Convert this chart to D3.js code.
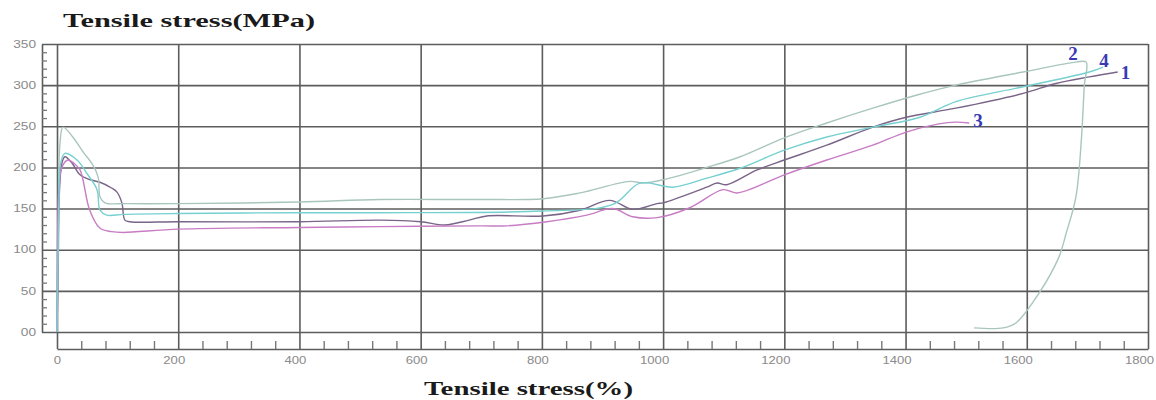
<!DOCTYPE html>
<html>
<head>
<meta charset="utf-8">
<script src="https://cdn.jsdelivr.net/npm/d3@7"></script>
<style>
  body { margin: 0; background: #fff; }
</style>
</head>
<body>
<div id="chart"></div>
<script>
'use strict';

// values: [strain %, stress MPa]
const curve1 = [[0,0],[2,80],[4,170],[8,205],[13,213],[25,205],[38,191],[55,185],[71,182],[90,175],[99,170],[107,157],[112,136],[120,134],[200,134],[400,134],[533,136],[600,134],[640,130],[680,136],[709,141],[802,141],[863,148],[912,160],[950,149],[990,156],[1000,157],[1072,176],[1089,181],[1105,179],[1155,197],[1200,209],[1270,227],[1346,249],[1401,261],[1483,272],[1594,290],[1648,302],[1703,310],[1750,316]];
const curve2 = [[0,0],[2,120],[5,230],[10,249],[26,237],[43,219],[59,203],[68,188],[71,164],[79,157],[115,156],[200,156],[400,158],[533,161],[700,161],[802,162],[863,169],[945,183],[967,181],[1000,185],[1072,200],[1127,213],[1200,236],[1270,254],[1346,272],[1419,288],[1483,300],[1594,316],[1681,328],[1698,328],[1695,300],[1690,233],[1681,164],[1665,120],[1653,91],[1620,47],[1582,11],[1561,5],[1513,5]];
const curve3 = [[0,0],[1,120],[3,170],[8,200],[18,209],[28,205],[38,197],[54,148],[71,126],[90,122],[109,121],[200,125],[400,127],[533,128],[700,129],[742,129],[808,134],[874,142],[917,150],[950,140],[990,139],[1044,151],[1099,173],[1122,169],[1200,191],[1270,209],[1346,227],[1401,243],[1455,253],[1483,255],[1505,254]];
const curve4 = [[0,0],[3,150],[6,205],[13,217],[33,209],[50,192],[66,173],[71,148],[82,142],[110,143],[200,144],[400,145],[533,145],[800,147],[917,155],[962,181],[1016,176],[1072,187],[1127,199],[1200,221],[1270,237],[1346,249],[1424,261],[1483,280],[1594,298],[1703,316],[1726,322]];
const curveNames = ['1', '2', '3', '4'];

const xTicks = [0, 200, 400, 600, 800, 1000, 1200, 1400, 1600, 1800];
const yTicks = [0, 50, 100, 150, 200, 250, 300, 350];
const yTickLabels = ['00', '50', '100', '150', '200', '250', '300', '350'];

const width = 1156;
const height = 400;

const svg = d3.select('#chart')
  .append('svg')
  .attr('width', width)
  .attr('height', height);

const scaleX = d3.scaleLinear().domain([0, 1800]).range([57, 1148]);
const scaleY = d3.scaleLinear().domain([0, 350]).range([332, 44]);
const axisLeftX = 42;
const axisBottomY = 349;
const gridColor = '#5c5c5c';
const tickFont = '"Liberation Sans", Arial, sans-serif';
const serif = '"Liberation Serif", "Times New Roman", serif';

// vertical grid + x labels
const gx = svg.append('g')
  .attr('transform', `translate(0, ${axisBottomY})`)
  .call(d3.axisBottom(scaleX)
    .tickValues(xTicks)
    .tickSize(-(axisBottomY - scaleY(350)))
    .tickSizeOuter(0)
    .tickPadding(8)
    .tickFormat(d => String(d)));
gx.selectAll('line').attr('stroke', gridColor).attr('stroke-width', 1.6);
gx.select('.domain').attr('stroke', gridColor).attr('stroke-width', 1.6);
gx.selectAll('text')
  .attr('fill', '#8a8a8a')
  .attr('dx', d => -Math.max(0, String(d).length - 2) * 4.5)
  .style('font-family', tickFont)
  .style('font-size', '10px')
  .attr('textLength', d => String(d).length * 7.3)
  .attr('lengthAdjust', 'spacingAndGlyphs');

// minor x ticks every 40
const xMinor = d3.range(0, 1801, 40).filter(v => v % 200 !== 0);
const gxm = svg.append('g')
  .attr('transform', `translate(0, ${axisBottomY})`)
  .call(d3.axisBottom(scaleX).tickValues(xMinor).tickSize(-8).tickFormat(''));
gxm.select('.domain').remove();
gxm.selectAll('line').attr('stroke', '#777').attr('stroke-width', 1.4);

// horizontal grid + y labels
const gy = svg.append('g')
  .attr('transform', `translate(${axisLeftX}, 0)`)
  .call(d3.axisLeft(scaleY)
    .tickValues(yTicks)
    .tickSize(-(scaleX(1800) - axisLeftX))
    .tickSizeOuter(0)
    .tickPadding(6)
    .tickFormat((d, i) => yTickLabels[i]));
gy.selectAll('line').attr('stroke', gridColor).attr('stroke-width', 1.6);
gy.select('.domain').attr('stroke', gridColor).attr('stroke-width', 1.6);
gy.selectAll('text')
  .attr('fill', '#8a8a8a')
  .style('font-family', tickFont)
  .style('font-size', '10px')
  .attr('textLength', (d, i) => yTickLabels[i].length * 7.6)
  .attr('lengthAdjust', 'spacingAndGlyphs');

// minor y ticks every 10
const yMinor = d3.range(0, 351, 10).filter(v => v % 50 !== 0);
const gym = svg.append('g')
  .attr('transform', `translate(${axisLeftX}, 0)`)
  .call(d3.axisLeft(scaleY).tickValues(yMinor).tickSize(-5).tickFormat(''));
gym.select('.domain').remove();
gym.selectAll('line').attr('stroke', '#777').attr('stroke-width', 1.3);

// curves
const curves = [curve1, curve2, curve3, curve4];
const colors = ['#7a6488', '#a9c6be', '#c77cc4', '#76d0d0'];
const labelOffsets = [[3, 7], [-18, -2], [4, 4], [-4, 0]];

const line = d3.line()
  .x(d => scaleX(d[0]))
  .y(d => scaleY(d[1]))
  .curve(d3.curveCatmullRom.alpha(0.5));

svg.append('g')
  .selectAll('path')
  .data(curves)
  .enter()
  .append('path')
  .attr('d', line)
  .attr('fill', 'none')
  .attr('stroke', (d, i) => colors[i])
  .attr('stroke-width', 1.4);

// curve numbers, placed near the highest point of each curve
svg.append('g')
  .selectAll('text')
  .data(curves)
  .enter()
  .append('text')
  .attr('x', (d, i) => scaleX(anchor(d, i)[0]) + labelOffsets[i][0])
  .attr('y', (d, i) => scaleY(anchor(d, i)[1]) + labelOffsets[i][1])
  .attr('fill', '#3a3ab4')
  .style('font-family', serif)
  .style('font-weight', 'bold')
  .style('font-size', '19px')
  .text((d, i) => curveNames[i]);

function anchor(d, i) {
  // curve 3 is labelled at its end, the others at their max
  if (i === 2) return d[d.length - 1];
  return d.reduce((a, b) => (b[1] >= a[1] ? b : a));
}

// titles
svg.append('text')
  .attr('x', 63)
  .attr('y', 27)
  .attr('fill', '#1a1a1a')
  .style('font-family', serif)
  .style('font-weight', 'bold')
  .style('font-size', '19px')
  .attr('textLength', 252)
  .attr('lengthAdjust', 'spacingAndGlyphs')
  .text('Tensile stress(MPa)');

svg.append('text')
  .attr('x', 424)
  .attr('y', 395)
  .attr('fill', '#1a1a1a')
  .style('font-family', serif)
  .style('font-weight', 'bold')
  .style('font-size', '19px')
  .attr('textLength', 209)
  .attr('lengthAdjust', 'spacingAndGlyphs')
  .text('Tensile stress(%)');
</script>
</body>
</html>
